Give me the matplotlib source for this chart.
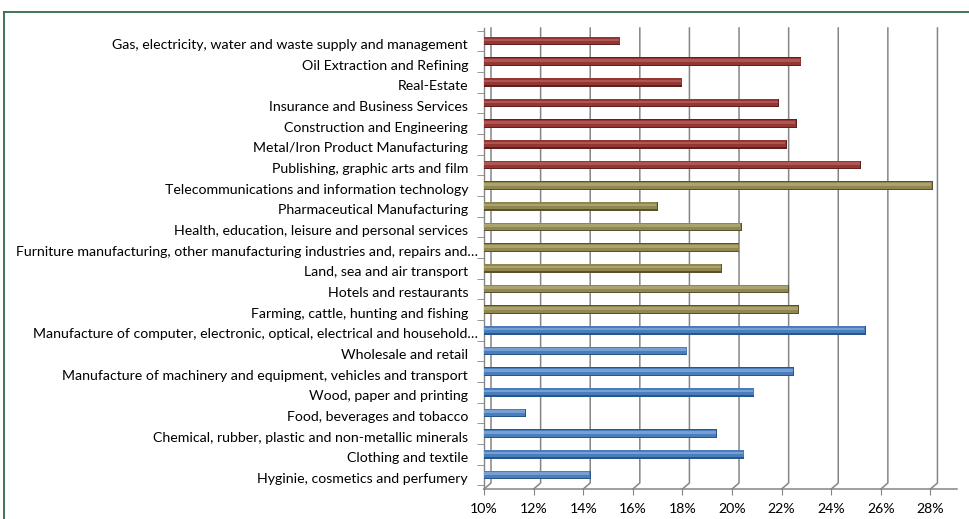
import matplotlib.pyplot as plt
from matplotlib.lines import Line2D
from matplotlib.transforms import blended_transform_factory, ScaledTranslation

# Sectors, top to bottom as listed on the chart
sectors = [
    "Gas, electricity, water and waste supply and management",
    "Oil Extraction and Refining",
    "Real-Estate",
    "Insurance and Business Services",
    "Construction and Engineering",
    "Metal/Iron Product Manufacturing",
    "Publishing, graphic arts and film",
    "Telecommunications and information technology",
    "Pharmaceutical Manufacturing",
    "Health, education, leisure and personal services",
    "Furniture manufacturing, other manufacturing industries and, repairs and\u2026",
    "Land, sea and air transport",
    "Hotels and restaurants",
    "Farming, cattle, hunting and fishing",
    "Manufacture of computer, electronic, optical, electrical and household\u2026",
    "Wholesale and retail",
    "Manufacture of machinery and equipment, vehicles and transport",
    "Wood, paper and printing",
    "Food, beverages and tobacco",
    "Chemical, rubber, plastic and non-metallic minerals",
    "Clothing and textile",
    "Hyginie, cosmetics and perfumery",
]
shares = [15.5, 22.8, 18.0, 21.9, 22.6, 22.2, 25.2,
          28.1, 17.0, 20.4, 20.3, 19.6, 22.3, 22.7,
          25.4, 18.2, 22.5, 20.9, 11.7, 19.4, 20.5, 14.3]
groups = ["red"] * 7 + ["olive"] * 7 + ["blue"] * 8

xticks = [10, 12, 14, 16, 18, 20, 22, 24, 26, 28]

# shadow / body / highlight shades for the cylinder look
palette = {
    "red":   ("#5e2120", "#943634", "#b9605e"),
    "olive": ("#57512f", "#8f8650", "#b5ad7a"),
    "blue":  ("#2a5587", "#4a7dbb", "#86abdc"),
}

plt.rcParams["font.family"] = ["Lato", "DejaVu Sans"]

W, H = 970, 519
fig = plt.figure(figsize=(W / 100, H / 100), dpi=100)
ax = fig.add_axes([484 / W, (H - 489) / H, (957 - 484) / W, (489 - 28) / H])

n = len(sectors)
ypos = [n - 1 - i for i in range(n)]
bh = 0.42
for y, v, g in zip(ypos, shares, groups):
    dark, body, light = palette[g]
    ax.barh(y, v - 10, left=10, height=bh, color=dark, zorder=3)
    ax.barh(y + bh * 0.07, v - 10 - 0.03, left=10, height=bh * 0.8, color=body, zorder=4)
    ax.barh(y + bh * 0.14, v - 10 - 0.06, left=10, height=bh * 0.3, color=light, zorder=5, alpha=0.75)

ax.set_xlim(10, 29.07)
ax.set_ylim(-0.677, n - 1 + 0.63)

# back-wall gridlines with a short slant down to the floor
fig.canvas.draw()
bb = ax.get_window_extent()
dx = 7 / bb.width * (29.07 - 10)
dy = 6 / bb.height
trans = blended_transform_factory(ax.transData, ax.transAxes)
for x in xticks:
    ax.plot([x, x + dx, x + dx], [0, dy, 1], color="#858585", lw=1.1,
            transform=trans, zorder=1, clip_on=False)

for s in ["top", "right"]:
    ax.spines[s].set_visible(False)
ax.spines["bottom"].set_color("#858585")
ax.spines["left"].set_color("#858585")
ax.spines["bottom"].set_linewidth(1.1)
ax.spines["left"].set_linewidth(1.0)

ax.set_xticks(xticks)
ax.set_xticklabels([f"{t}%" for t in xticks], fontsize=10.2)
ax.tick_params(axis="x", length=4, color="#858585", pad=6)

ax.set_yticks(ypos)
ax.set_yticklabels(sectors, fontsize=10.2)
ax.set_yticks([i - 0.5 for i in range(n + 1)], minor=True)
ax.tick_params(axis="y", which="major", length=0, pad=11.5)
ax.tick_params(axis="y", which="minor", length=5, color="#858585")

# sector names sit a little below their bars; truncated names run further right
for lab in ax.get_yticklabels():
    shift_x = 10 / 100 if lab.get_text().endswith("\u2026") else 0
    lab.set_transform(lab.get_transform() + ScaledTranslation(shift_x, -3 / 100, fig.dpi_scale_trans))

# outer frame lines
frame = "#2f6b47"
fig.add_artist(Line2D([4 / W, 1], [1 - 12 / H, 1 - 12 / H], color=frame, lw=1.3))
fig.add_artist(Line2D([4 / W, 4 / W], [0, 1 - 12 / H], color=frame, lw=1.3))

fig.savefig("out.png", dpi=100, facecolor="white")
